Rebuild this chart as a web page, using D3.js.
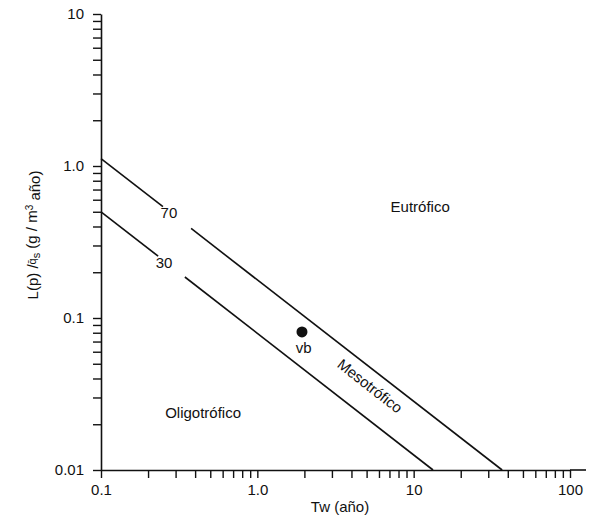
<!DOCTYPE html>
<html>
<head>
<meta charset="utf-8">
<script src="https://cdn.jsdelivr.net/npm/d3@7"></script>
<style>
  body { margin: 0; background: #fff; }
  text { font-family: "Liberation Sans", Arial, sans-serif; fill: #111; }
</style>
</head>
<body>
<script>
// chart values
var xTickLabels = {0.1: "0.1", 1: "1.0", 10: "10", 100: "100"};
var yTickLabels = {0.01: "0.01", 0.1: "0.1", 1: "1.0", 10: "10"};

// boundary lines: start / end points (Tw, L) and the x range left open for the label
var boundaries = [
	{name: "70", start: [0.1, 1.12], end: [36.8, 0.01], gap: [0.249, 0.377], labelAt: [0.272, 0.49]},
	{name: "30", start: [0.1, 0.50], end: [13.3, 0.01], gap: [0.232, 0.344], labelAt: [0.253, 0.23]}
];

var points = [
	{name: "vb", tw: 1.93, l: 0.081, labelAt: [1.98, 0.0635]}
];

var zones = [
	{name: "Eutrófico", at: [11, 0.54], angle: 0},
	{name: "Oligotrófico", at: [0.45, 0.0237], angle: 0},
	{name: "Mesotrófico", at: [5.25, 0.0357], angle: 38}
];

var svg = d3.select("body").append("svg")
	.attr("width", 596)
	.attr("height", 519);

var x = d3.scaleLog().domain([0.1, 100]).range([101, 570]);
var y = d3.scaleLog().domain([0.01, 10]).range([470, 14]);

// point on the straight (log-log) line between start and end
function lineY(b, tw) {
	var t = (Math.log10(tw) - Math.log10(b.start[0])) / (Math.log10(b.end[0]) - Math.log10(b.start[0]));
	return Math.pow(10, Math.log10(b.start[1]) + t * (Math.log10(b.end[1]) - Math.log10(b.start[1])));
}

// axes
var xAxis = d3.axisBottom(x)
	.tickSize(8).tickSizeOuter(0).tickPadding(6)
	.tickFormat(function(d){ return xTickLabels[+d.toPrecision(3)] || ""; });
var gx = svg.append("g").attr("transform", "translate(0,470)").call(xAxis);

var yAxis = d3.axisLeft(y)
	.tickSize(8).tickSizeOuter(0).tickPadding(9)
	.tickFormat(function(d){ return yTickLabels[+d.toPrecision(3)] || ""; });
var gy = svg.append("g").attr("transform", "translate(101,0)").call(yAxis);

[gx, gy].forEach(function(g){
	g.selectAll("path.domain").attr("stroke", "#111").attr("stroke-width", 1.6);
	g.selectAll(".tick line").attr("stroke", "#111").attr("stroke-width", 1.4);
	g.selectAll(".tick text").style("font-size", "15px").style("font-family", "Liberation Sans, Arial, sans-serif");
});

// the x axis runs on a little past 100
svg.append("line")
	.attr("x1", x(100)).attr("x2", x(100) + 16)
	.attr("y1", 470).attr("y2", 470)
	.attr("stroke", "#111").attr("stroke-width", 1.6);

// boundary lines, broken where the label goes
boundaries.forEach(function(b){
	var segs = [[b.start[0], b.gap[0]], [b.gap[1], b.end[0]]];
	segs.forEach(function(s){
		svg.append("line")
			.attr("x1", x(s[0])).attr("y1", y(lineY(b, s[0])))
			.attr("x2", x(s[1])).attr("y2", y(lineY(b, s[1])))
			.attr("stroke", "#111").attr("stroke-width", 1.6);
	});
	svg.append("text")
		.attr("x", x(b.labelAt[0])).attr("y", y(b.labelAt[1]))
		.attr("text-anchor", "middle").attr("dy", "0.35em")
		.style("font-size", "15px")
		.text(b.name);
});

// points
svg.selectAll("circle.pt")
	.data(points)
	.enter()
	.append("circle")
	.classed("pt", true)
	.attr("cx", function(d){ return x(d.tw); })
	.attr("cy", function(d){ return y(d.l); })
	.attr("r", 5.5)
	.style("fill", "#111");

svg.selectAll("text.pt")
	.data(points)
	.enter()
	.append("text")
	.classed("pt", true)
	.attr("x", function(d){ return x(d.labelAt[0]); })
	.attr("y", function(d){ return y(d.labelAt[1]); })
	.attr("text-anchor", "middle").attr("dy", "0.35em")
	.style("font-size", "15px")
	.text(function(d){ return d.name; });

// zone names
svg.selectAll("text.zone")
	.data(zones)
	.enter()
	.append("text")
	.classed("zone", true)
	.attr("transform", function(d){
		return "translate(" + x(d.at[0]) + "," + y(d.at[1]) + ") rotate(" + d.angle + ")";
	})
	.attr("text-anchor", "middle").attr("dy", "0.35em")
	.style("font-size", "15px")
	.text(function(d){ return d.name; });

// axis titles
svg.append("text")
	.attr("x", 340).attr("y", 507)
	.attr("text-anchor", "middle").attr("dy", "0.35em")
	.style("font-size", "15px")
	.text("Tw (año)");

var yt = svg.append("text")
	.attr("transform", "translate(33,235) rotate(-90)")
	.attr("text-anchor", "middle").attr("dy", "0.35em")
	.style("font-size", "15px");
yt.append("tspan").text("L(p) /");
yt.append("tspan").text("q\u0304").attr("dy", "-0.25em").style("font-size", "11px");
yt.append("tspan").text("s").attr("dy", "0.45em").style("font-size", "11px");
yt.append("tspan").text(" (g / m").attr("dy", "-0.2em");
yt.append("tspan").text("3").attr("dy", "-0.45em").style("font-size", "10px");
yt.append("tspan").text(" año)").attr("dy", "0.45em");
</script>
</body>
</html>
